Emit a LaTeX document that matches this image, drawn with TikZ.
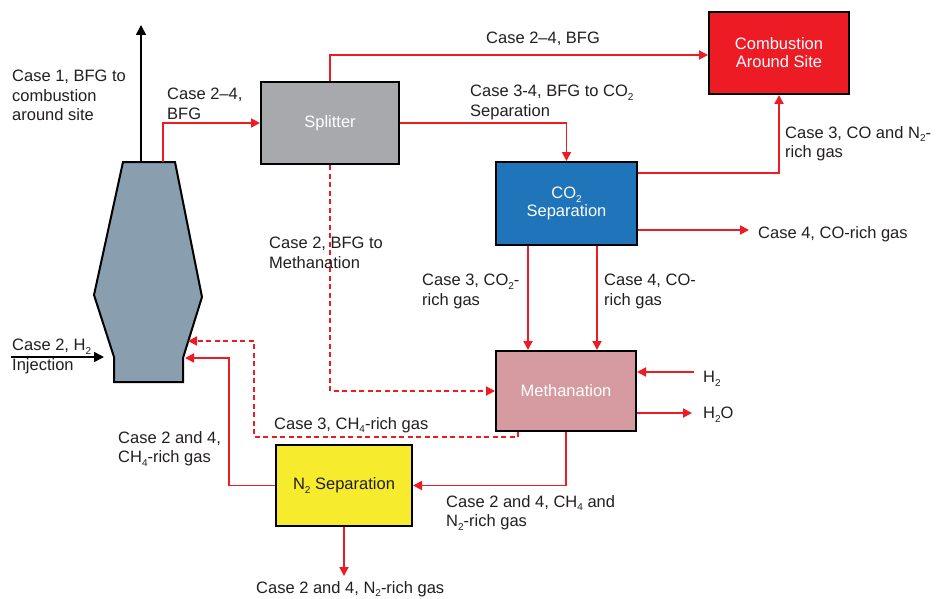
\documentclass[tikz,border=0pt]{standalone}
\usepackage{fontspec}
\setmainfont{Liberation Sans}
\usetikzlibrary{arrows.meta,calc}
\definecolor{myred}{HTML}{ED1C24}
\definecolor{txtgray}{HTML}{231F20}
\definecolor{splitgray}{HTML}{A7A9AC}
\definecolor{furnblue}{HTML}{899FAF}
\definecolor{co2blue}{HTML}{1F74BA}
\definecolor{methpink}{HTML}{D59BA0}
\definecolor{n2yellow}{HTML}{F6EB2C}
\newcommand{\subs}[1]{\raisebox{-3.5pt}{\fontsize{10}{10}\selectfont #1}}
\begin{document}
\begin{tikzpicture}[x=1pt,y=-1pt,
  lbl/.style={font=\fontsize{16.5}{19.5}\selectfont, align=left, inner sep=0pt, anchor=north west, text=txtgray},
  procbox/.style={draw=black, line width=2pt, inner sep=0pt, text=white, font=\fontsize{16.5}{18}\selectfont, align=center},
  rarr/.style={draw=myred, line width=1.8pt, -{Triangle[length=9pt,width=9pt]}},
  rdash/.style={rarr, dash pattern=on 5pt off 3.5pt},
  barr/.style={draw=black, line width=1.6pt, -{Triangle[length=10pt,width=10pt]}}]
\useasboundingbox (0,0) rectangle (936,599);
\fill[white] (0,0) rectangle (936,599);

% furnace
\draw[line width=2pt, fill=furnblue, line join=miter]
  (123,162) -- (175,162) -- (202,297) -- (183,358) -- (183,382) -- (114,382) -- (114,357) -- (94,295) -- cycle;

% boxes
\node[procbox, fill=splitgray, minimum width=138pt, minimum height=82pt] (split) at (330,123) {Splitter};
\node[procbox, fill=myred, minimum width=140pt, minimum height=82pt] (comb) at (779,53) {Combustion\\Around Site};
\node[procbox, fill=co2blue, minimum width=141pt, minimum height=83pt] (co2) at (566.5,203.5) {CO\subs{2}\\Separation};
\node[procbox, fill=methpink, minimum width=140pt, minimum height=80pt] (meth) at (566,391) {Methanation};
\node[procbox, fill=n2yellow, text=txtgray, minimum width=136pt, minimum height=81pt] (n2) at (344,485.5) {N\subs{2} Separation};

% helper coordinates
\coordinate (fup) at (141,162);
\coordinate (upend) at (141,25);
\coordinate (fred) at (163,162);
\coordinate (y55) at (0,55);
\coordinate (y173) at (0,173);
\coordinate (c4end) at (749,230);
\coordinate (x528) at (528,0);
\coordinate (x597) at (597,0);
\coordinate (h2start) at (694,372);
\coordinate (h2oend) at (692,413);
\coordinate (x518) at (518,0);
\coordinate (dcorner) at (254,437);
\coordinate (fin1) at (188,341);
\coordinate (x229) at (229,0);
\coordinate (fin2) at (185,358);
\coordinate (n2out) at (343,576);
\coordinate (h2in) at (11,357);
\coordinate (h2tip) at (104,357);

% black arrows
\draw[barr] (fup) -- (upend);
\draw[barr] (h2in) -- (h2tip);

% red connectors
\draw[rarr] (fred) |- (split.west);
\draw[rarr] (split.north) |- (comb.west |- y55);
\draw[rarr] (split.east) -| (co2.north);
\draw[rdash] (split.south) |- (meth.west);
\draw[rarr] (co2.east |- y173) -| (comb.south);
\draw[rarr] (co2.east |- c4end) -- (c4end);
\draw[rarr] (co2.south -| x528) -- (meth.north -| x528);
\draw[rarr] (co2.south -| x597) -- (meth.north -| x597);
\draw[rarr] (h2start) -- (meth.east |- h2start);
\draw[rarr] (meth.east |- h2oend) -- (h2oend);
\draw[rarr] (meth.south) |- (n2.east);
\draw[rdash] (meth.south -| x518) |- (dcorner) |- (fin1);
\draw[rarr] (n2.west) -- (n2.west -| x229) |- (fin2);
\draw[rarr] (n2.south) -- (n2.south |- n2out);

% labels
\node[lbl] (l1) at (12,70) {Case 1, BFG to\\combustion\\around site};
\node[lbl] (l2) at (167,88) {Case 2--4,\\BFG};
\node[lbl] (l3) at (486,32) {Case 2--4, BFG};
\node[lbl] (l4) at (470,85) {Case 3-4, BFG to CO\subs{2}\\Separation};
\node[lbl] (l5) at (785,126) {Case 3, CO and N\subs{2}-\\rich gas};
\node[lbl] (l6) at (758,226) {Case 4, CO-rich gas};
\node[lbl] (l7) at (269,237) {Case 2, BFG to\\Methanation};
\node[lbl] (l8) at (422,274) {Case 3, CO\subs{2}-\\rich gas};
\node[lbl] (l9) at (604,274) {Case 4, CO-\\rich gas};
\node[lbl] (l10) at (703,371) {H\subs{2}};
\node[lbl] (l11) at (703,407) {H\subs{2}O};
\node[lbl] (l12) at (274,417) {Case 3, CH\subs{4}-rich gas};
\node[lbl] (l13) at (118,431) {Case 2 and 4,\\CH\subs{4}-rich gas};
\node[lbl] (l14) at (446,495) {Case 2 and 4, CH\subs{4} and\\N\subs{2}-rich gas};
\node[lbl] (l15) at (256,581) {Case 2 and 4, N\subs{2}-rich gas};
\node[lbl] (l16) at (12,339) {Case 2, H\subs{2}\\Injection};
\end{tikzpicture}
\end{document}
